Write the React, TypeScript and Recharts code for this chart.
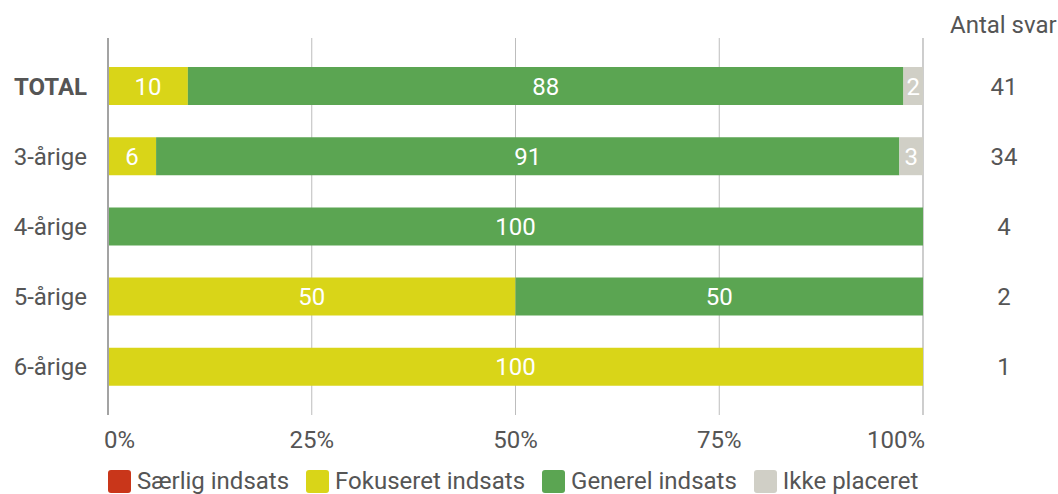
import { BarChart, Bar, XAxis, YAxis, CartesianGrid, Legend, LabelList } from "recharts"

const categories = ["TOTAL", "3-årige", "4-årige", "5-årige", "6-årige"]
const saerlig = [0, 0, 0, 0, 0]
const fokuseret = [9.8, 5.9, 0, 50, 100]
const generel = [87.8, 91.2, 100, 50, 0]
const ikkePlaceret = [2.4, 2.9, 0, 0, 0]
const antalSvar = [41, 34, 4, 2, 1]
const xTicks = [0, 25, 50, 75, 100]

const series = [
  { key: "saerlig", name: "Særlig indsats", color: "#c9361a" },
  { key: "fokuseret", name: "Fokuseret indsats", color: "#d9d518" },
  { key: "generel", name: "Generel indsats", color: "#5ba552" },
  { key: "ikke", name: "Ikke placeret", color: "#d0cfc6" },
]

const data = categories.map((name, i) => ({
  name,
  saerlig: saerlig[i],
  fokuseret: fokuseret[i],
  generel: generel[i],
  ikke: ikkePlaceret[i],
  antal: antalSvar[i],
}))

const FONT = "Roboto, sans-serif"
const FS = 24
const TEXT = "#555555"

function CategoryTick(props: any) {
  const { x, y, payload, index } = props
  const bold = payload.value === "TOTAL"
  return (
    <g>
      <text x={x} y={y} dy="0.35em" textAnchor="end" fill={TEXT} fontFamily={FONT} fontSize={FS} fontWeight={bold ? 700 : 400}>
        {payload.value}
      </text>
      <text x={1004} y={y} dy="0.35em" textAnchor="middle" fill={TEXT} fontFamily={FONT} fontSize={FS}>
        {antalSvar[index]}
      </text>
    </g>
  )
}

function PercentTick(props: any) {
  const { x, y, payload, index } = props
  const last = index === xTicks.length - 1
  const anchor = index === 0 ? "start" : last ? "end" : "middle"
  const tx = index === 0 ? x - 4 : last ? x + 2 : x
  return (
    <text x={tx} y={y + 33} textAnchor={anchor} fill={TEXT} fontFamily={FONT} fontSize={FS}>
      {payload.value}%
    </text>
  )
}

function LegendContent() {
  return (
    <div style={{ height: 39, boxSizing: "border-box", paddingTop: 14, display: "flex", alignItems: "center", fontFamily: FONT, fontSize: FS, color: TEXT }}>
      {series.map((s) => (
        <div key={s.key} style={{ display: "flex", alignItems: "center", marginRight: 17, height: 23 }}>
          <span style={{ width: 23, height: 23, borderRadius: 3, background: s.color, marginRight: 6, display: "inline-block" }} />
          <span style={{ lineHeight: "23px", whiteSpace: "nowrap" }}>{s.name}</span>
        </div>
      ))}
    </div>
  )
}

const fmt = (v: any) => (Number(v) > 0 ? Math.round(Number(v)) : "")

export default function App() {
  return (
    <div style={{ position: "absolute", top: 0, left: 0, width: 1058, height: 494, background: "#fff" }}>
      <div style={{ position: "absolute", left: 950, top: 11, fontFamily: FONT, fontSize: FS, color: TEXT, whiteSpace: "nowrap" }}>Antal svar</div>
      <BarChart width={1058} height={494} data={data} layout="vertical" margin={{ top: 38, right: 135, left: 0, bottom: 0 }}>
        <CartesianGrid horizontal={false} stroke="#bdbdbd" />
        <XAxis type="number" domain={[0, 100]} ticks={xTicks} axisLine={false} tickLine={false} tickSize={0} tickMargin={0} height={40} tick={<PercentTick />} interval={0} />
        <YAxis
          type="category"
          dataKey="name"
          width={108}
          padding={{ top: 13, bottom: 13 }}
          axisLine={{ stroke: "#a3a3a3", strokeWidth: 2 }}
          tickLine={false}
          tickSize={0}
          tickMargin={21}
          tick={<CategoryTick />}
          interval={0}
        />
        <Legend verticalAlign="bottom" content={<LegendContent />} wrapperStyle={{ left: 108, width: 900 }} />
        {series.map((s) => (
          <Bar key={s.key} dataKey={s.key} name={s.name} stackId="a" fill={s.color} barSize={38} isAnimationActive={false}>
            <LabelList dataKey={s.key} position="center" fill="#ffffff" fontFamily={FONT} fontSize={FS} formatter={fmt} />
          </Bar>
        ))}
      </BarChart>
    </div>
  )
}
